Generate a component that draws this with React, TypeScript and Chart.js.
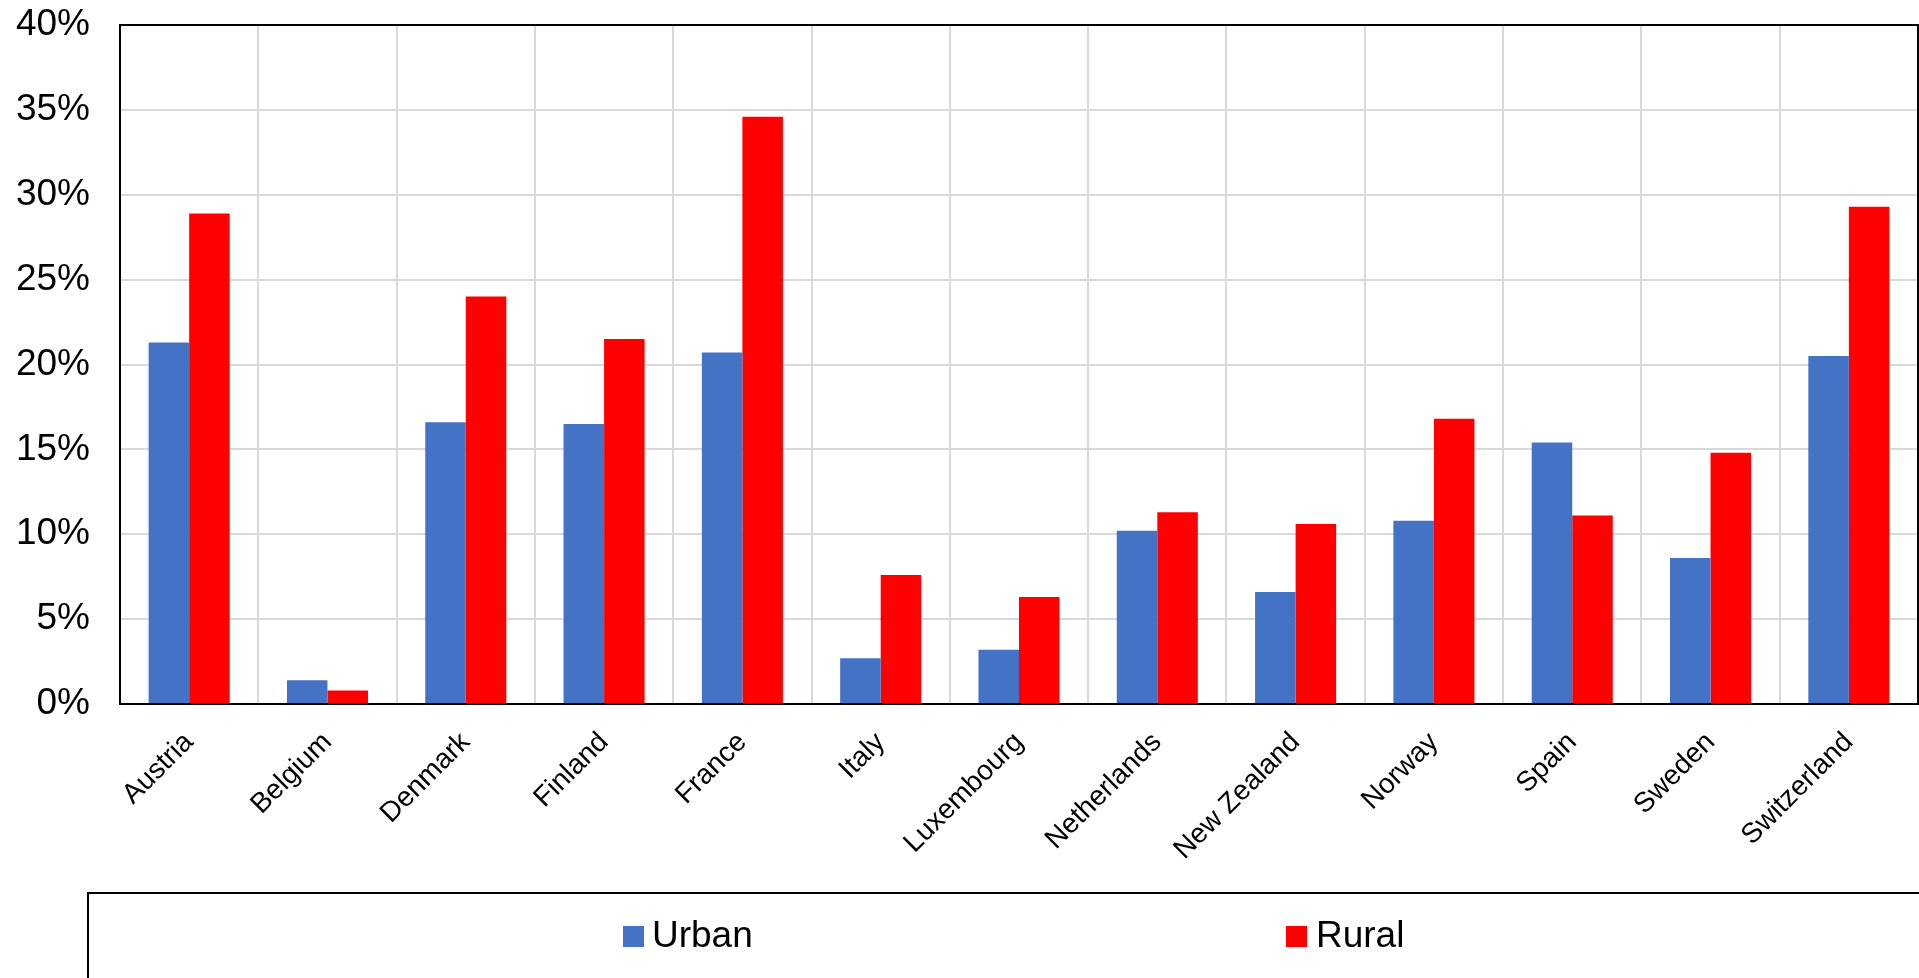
import React, { useEffect, useRef } from "react";
import { Chart, registerables } from "chart.js";

Chart.register(...registerables);

const categories = [
  "Austria", "Belgium", "Denmark", "Finland", "France", "Italy", "Luxembourg",
  "Netherlands", "New Zealand", "Norway", "Spain", "Sweden", "Switzerland",
];
const urbanValues = [21.3, 1.4, 16.6, 16.5, 20.7, 2.7, 3.2, 10.2, 6.6, 10.8, 15.4, 8.6, 20.5];
const ruralValues = [28.9, 0.8, 24.0, 21.5, 34.6, 7.6, 6.3, 11.3, 10.6, 16.8, 11.1, 14.8, 29.3];
const seriesNames = ["Urban", "Rural"];
const seriesColors = ["#4472C4", "#FF0000"];
const yMin = 0;
const yMax = 40;
const yStep = 5;

const FONT = "'Liberation Sans', Arial, sans-serif";

const frameAndLegend = {
  id: "frameAndLegend",
  afterDatasetsDraw(chart: any) {
    const { ctx, chartArea } = chart;
    ctx.save();
    ctx.strokeStyle = "#000";
    ctx.lineWidth = 2;
    ctx.strokeRect(chartArea.left, chartArea.top, chartArea.right - chartArea.left, chartArea.bottom - chartArea.top);
    ctx.restore();
  },
  afterDraw(chart: any) {
    const { ctx } = chart;
    ctx.save();
    ctx.strokeStyle = "#000";
    ctx.lineWidth = 2;
    ctx.strokeRect(88, 893, 1919, 200);
    const items = [
      { x: 623, textX: 652 },
      { x: 1286, textX: 1316 },
    ];
    const cy = 936;
    ctx.font = `37px ${FONT}`;
    ctx.textBaseline = "middle";
    ctx.textAlign = "left";
    chart.data.datasets.forEach((ds: any, i: number) => {
      const it = items[i];
      ctx.fillStyle = ds.backgroundColor;
      ctx.fillRect(it.x, cy - 10, 21, 21);
      ctx.fillStyle = "#000";
      ctx.fillText(ds.label, it.textX, cy + 1);
    });
    ctx.restore();
  },
};

export default function App() {
  const ref = useRef<HTMLCanvasElement | null>(null);
  useEffect(() => {
    if (!ref.current) return;
    const chart = new Chart(ref.current, {
      type: "bar",
      data: {
        labels: categories,
        datasets: [
          { label: seriesNames[0], data: urbanValues, backgroundColor: seriesColors[0], categoryPercentage: 0.586, barPercentage: 1 },
          { label: seriesNames[1], data: ruralValues, backgroundColor: seriesColors[1], categoryPercentage: 0.586, barPercentage: 1 },
        ],
      },
      options: {
        responsive: false,
        animation: false,
        layout: { padding: { top: 25, right: 1, left: 0, bottom: 0 } },
        plugins: { legend: { display: false }, tooltip: { enabled: false } },
        scales: {
          x: {
            grid: { color: "#d9d9d9", lineWidth: 2, drawTicks: false, offset: true },
            border: { display: false },
            ticks: {
              autoSkip: false,
              maxRotation: 45,
              minRotation: 45,
              padding: 22,
              color: "#000",
              font: { family: FONT, size: 28 },
            },
            afterFit(scale: any) {
              scale.height = 274;
              scale.paddingLeft = 0;
              scale.paddingRight = 0;
            },
          },
          y: {
            min: yMin,
            max: yMax,
            grid: { color: "#d9d9d9", lineWidth: 2, drawTicks: false },
            border: { display: false },
            ticks: {
              stepSize: yStep,
              padding: 30,
              color: "#000",
              font: { family: FONT, size: 37 },
              callback: (v: any) => `${v}%`,
            },
            afterFit(scale: any) {
              scale.width = 120;
              scale.paddingTop = 0;
              scale.paddingBottom = 0;
            },
          },
        },
      },
      plugins: [frameAndLegend],
    });
    return () => chart.destroy();
  }, []);
  return (
    <div style={{ position: "fixed", left: 0, top: 0, width: 1919, height: 978, background: "#fff" }}>
      <canvas ref={ref} width={1919} height={978} style={{ display: "block", width: 1919, height: 978 }} />
    </div>
  );
}
